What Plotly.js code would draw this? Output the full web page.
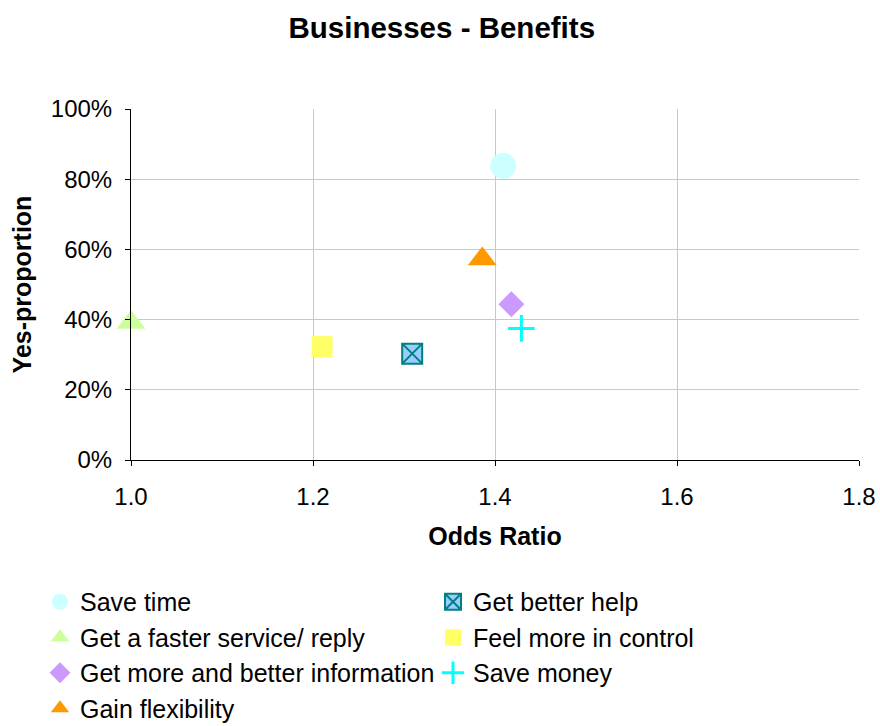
<!DOCTYPE html>
<html><head><meta charset="utf-8">
<script src="https://cdn.plot.ly/plotly-3.0.1.min.js"></script>
<style>html,body{margin:0;padding:0;background:#fff}</style>
</head><body>
<div id="chart" style="width:880px;height:726px"></div>
<script>
// Legend order (row-major so that the 2-column legend reads column-wise)
const seriesNames = ["Save time","Get better help","Get a faster service/ reply","Feel more in control","Get more and better information","Save money","Gain flexibility"];
const oddsRatio   = [1.409, 1.309, 1.000, 1.210, 1.418, 1.429, 1.386];
const yesProp     = [0.838, 0.303, 0.392, 0.323, 0.444, 0.375, 0.573];
const xTicks = [1.0, 1.2, 1.4, 1.6, 1.8];
const yTicks = [0, 0.2, 0.4, 0.6, 0.8, 1.0];

const styles = [
  {symbol:"circle", size:26, color:"#CCFFFF", line:{width:0}},
  {symbol:"square-x", size:20, color:"#99CCFF", line:{width:2, color:"#008080"}},
  {symbol:"triangle-up", size:25, color:"#CCFF99", line:{width:0}},
  {symbol:"square", size:21, color:"#FFFF66", line:{width:0}},
  {symbol:"diamond", size:20, color:"#CC99FF", line:{width:0}},
  {symbol:"cross-thin", size:19, color:"#00FFFF", line:{width:3, color:"#00FFFF"}},
  {symbol:"triangle-up", size:25, color:"#FF9900", line:{width:0}}
];

const traces = seriesNames.map((n,i)=>({
  type:"scatter", mode:"markers", name:n,
  x:[oddsRatio[i]], y:[yesProp[i]],
  marker:styles[i], cliponaxis:false, hoverinfo:"name"
}));

const F = "Arial, 'Liberation Sans', sans-serif";
const layout = {
  width:880, height:726,
  margin:{l:131, r:21, t:109, b:266, autoexpand:false},
  paper_bgcolor:"#fff", plot_bgcolor:"#fff",
  font:{family:F, color:"#000"},
  title:{text:"<b>Businesses - Benefits</b>", font:{size:29.5, family:F, color:"#000"}, x:0.502, xanchor:"center", y:0.962, yanchor:"middle"},
  xaxis:{
    range:[1,1.8], tickvals:xTicks, ticktext:xTicks.map(v=>v.toFixed(1)),
    showgrid:true, gridcolor:"#c8c8c8", gridwidth:1,
    showline:true, linecolor:"#000", linewidth:1, zeroline:false,
    ticks:"outside", ticklen:5, tickcolor:"#000",
    tickfont:{size:24, family:F, color:"#000"}, ticklabelstandoff:10,
    title:{text:"<b>Odds Ratio</b>", font:{size:25, family:F, color:"#000"}, standoff:18}
  },
  yaxis:{
    range:[0,1], tickvals:yTicks, tickformat:".0%",
    showgrid:true, gridcolor:"#c8c8c8", gridwidth:1,
    showline:true, linecolor:"#000", linewidth:1, zeroline:false,
    ticks:"outside", ticklen:5, tickcolor:"#000",
    tickfont:{size:24, family:F, color:"#000"}, ticklabelstandoff:8,
    title:{text:"<b>Yes-proportion</b>", font:{size:25, family:F, color:"#000"}, standoff:12}
  },
  showlegend:true,
  legend:{orientation:"h", x:-0.125, xanchor:"left", y:-0.339, yanchor:"top",
    font:{size:25, family:F, color:"#000"}, entrywidth:348, entrywidthmode:"pixels",
    traceorder:"normal", bgcolor:"rgba(0,0,0,0)", tracegroupgap:0}
};
Plotly.newPlot("chart", traces, layout, {displayModeBar:false, staticPlot:true});
</script>
</body></html>
